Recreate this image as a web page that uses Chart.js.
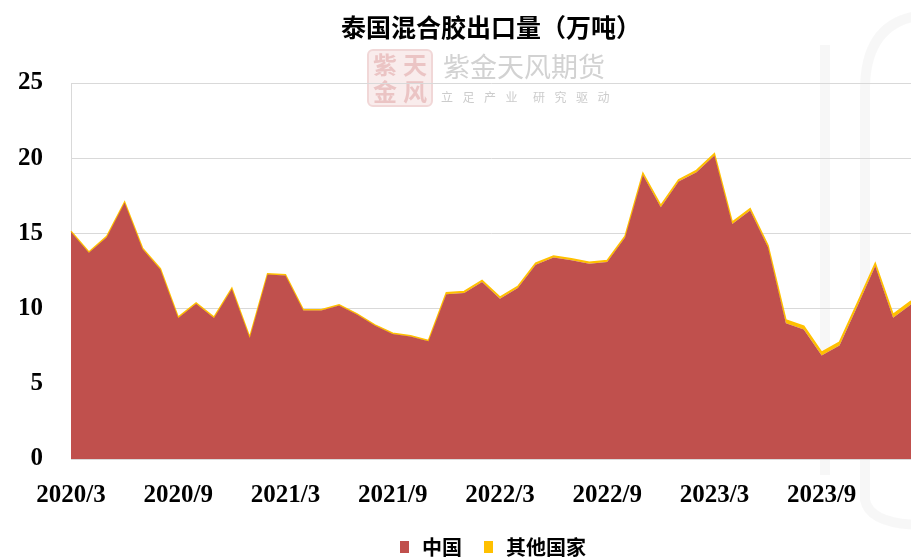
<!DOCTYPE html>
<html>
<head>
<meta charset="utf-8">
<script src="https://cdn.jsdelivr.net/npm/chart.js@4/dist/chart.umd.min.js"></script>
<style>
    html, body { margin: 0; padding: 0; background: #fff; }
    #wrap { width: 911px; height: 557px; position: relative; }
</style>
</head>
<body>
<div id="wrap"><canvas id="exportChart"></canvas></div>
<script>
// ── Data (万吨) ──
const months = [
    "2020/3", "2020/4", "2020/5", "2020/6", "2020/7", "2020/8", "2020/9", "2020/10", "2020/11", "2020/12",
    "2021/1", "2021/2", "2021/3", "2021/4", "2021/5", "2021/6", "2021/7", "2021/8", "2021/9", "2021/10",
    "2021/11", "2021/12", "2022/1", "2022/2", "2022/3", "2022/4", "2022/5", "2022/6", "2022/7", "2022/8",
    "2022/9", "2022/10", "2022/11", "2022/12", "2023/1", "2023/2", "2023/3", "2023/4", "2023/5", "2023/6",
    "2023/7", "2023/8", "2023/9", "2023/10", "2023/11", "2023/12", "2024/1", "2024/2"
];
const china = [
    15.10, 13.71, 14.75, 17.03, 13.97, 12.60, 9.38, 10.33, 9.38, 11.31,
    8.05, 12.26, 12.20, 9.87, 9.87, 10.20, 9.60, 8.87, 8.31, 8.15,
    7.83, 10.95, 11.04, 11.77, 10.66, 11.37, 12.92, 13.39, 13.21, 12.99,
    13.10, 14.72, 18.89, 16.74, 18.45, 19.07, 20.18, 15.63, 16.52, 14.08,
    9.03, 8.61, 6.88, 7.55, 10.16, 12.84, 9.39, 10.28
];
const others = [
    0.05, 0.05, 0.05, 0.05, 0.05, 0.05, 0.05, 0.05, 0.05, 0.05,
    0.05, 0.05, 0.05, 0.05, 0.05, 0.05, 0.05, 0.05, 0.05, 0.05,
    0.05, 0.10, 0.10, 0.10, 0.10, 0.10, 0.10, 0.10, 0.10, 0.10,
    0.10, 0.10, 0.12, 0.12, 0.12, 0.12, 0.12, 0.12, 0.12, 0.12,
    0.22, 0.22, 0.22, 0.22, 0.20, 0.18, 0.22, 0.22
];
const yTicks = [0, 5, 10, 15, 20, 25];
const labelEvery = 6; // x 轴每 6 个月一个标签

const COLORS = {
    china:  "#C0504D",
    others: "#FFC000",
    grid:   "#d9d9d9",
};

const CJK = "'Noto Sans CJK SC', 'Noto Sans', sans-serif";
const SERIF = "'Liberation Serif', 'DejaVu Serif', serif";

// ── Watermark (drawn behind the chart) ──
const watermark = {
    id: "watermark",
    beforeDraw(chart) {
        const ctx = chart.ctx;
        ctx.save();
        ctx.fillStyle = "#fff";
        ctx.fillRect(0, 0, chart.width, chart.height);

        // faint shape on the right
        ctx.strokeStyle = "rgba(0,0,0,0.03)";
        ctx.lineWidth = 10;
        ctx.beginPath();
        ctx.moveTo(825, 45);
        ctx.lineTo(825, 475);
        ctx.stroke();
        ctx.beginPath();
        ctx.moveTo(925, 15);
        ctx.quadraticCurveTo(865, 20, 865, 90);
        ctx.lineTo(865, 500);
        ctx.quadraticCurveTo(870, 525, 925, 525);
        ctx.stroke();

        // stamp
        ctx.fillStyle = "#f9ecec";
        ctx.strokeStyle = "#f1d7d7";
        ctx.lineWidth = 2;
        ctx.beginPath();
        ctx.roundRect(368, 50, 64, 56, 5);
        ctx.fill();
        ctx.stroke();
        ctx.fillStyle = "#ebc4c4";
        ctx.font = `bold 24px ${CJK}`;
        ctx.textAlign = "center";
        ctx.textBaseline = "middle";
        ctx.fillText("紫", 385, 65);
        ctx.fillText("天", 415, 65);
        ctx.fillText("金", 385, 92);
        ctx.fillText("风", 415, 92);

        // company name
        ctx.fillStyle = "#d2d2d2";
        ctx.font = `27px ${CJK}`;
        ctx.textAlign = "left";
        ctx.fillText("紫金天风期货", 443, 67);

        ctx.fillStyle = "#cccccc";
        ctx.font = `12px ${CJK}`;
        const slogan = "立足产业研究驱动";
        for (let i = 0; i < slogan.length; i++) {
            const gap = i >= 4 ? 6 : 0;
            ctx.fillText(slogan[i], 441 + i * 21.5 + gap, 97);
        }
        ctx.restore();
    },
};

// ── Legend drawn by hand (fixed spot under the axis) ──
const bottomLegend = {
    id: "bottomLegend",
    afterDraw(chart) {
        const ctx = chart.ctx;
        ctx.save();
        ctx.font = `bold 20px ${CJK}`;
        ctx.textBaseline = "middle";
        ctx.textAlign = "left";
        let x = 400;
        const y = 547;
        chart.data.datasets.forEach(ds => {
            ctx.fillStyle = ds.backgroundColor;
            ctx.fillRect(x, y - 6, 9, 12);
            x += 22;
            ctx.fillStyle = "#000";
            ctx.fillText(ds.label, x, y);
            x += ctx.measureText(ds.label).width + 22;
        });
        ctx.restore();
    },
};

// ── Chart ──
new Chart(document.getElementById("exportChart"), {
    type: "line",
    data: {
        labels: months,
        datasets: [
            {
                label: "中国",
                data: china,
                backgroundColor: COLORS.china,
                borderColor: COLORS.china,
                borderWidth: 0,
                pointRadius: 0,
                fill: "origin",
                tension: 0,
            },
            {
                label: "其他国家",
                data: others,
                backgroundColor: COLORS.others,
                borderColor: COLORS.others,
                borderWidth: 1.5,
                pointRadius: 0,
                fill: "-1",
                tension: 0,
            },
        ],
    },
    options: {
        responsive: true,
        maintainAspectRatio: false,
        animation: false,
        layout: { padding: { left: 19, right: 0, top: 0, bottom: 24 } },
        plugins: {
            title: {
                display: true,
                fullSize: false,
                text: "泰国混合胶出口量（万吨）",
                color: "#000",
                font: { family: CJK, size: 25, weight: "bold" },
                padding: { top: 12, bottom: 41 },
            },
            legend: { display: false },
            tooltip: { enabled: false },
        },
        scales: {
            x: {
                grid: { display: false, drawTicks: false },
                border: { display: true, color: COLORS.grid },
                afterFit: (axis) => { axis.paddingLeft = 0; axis.paddingRight = 0; },
                ticks: {
                    autoSkip: false,
                    maxRotation: 0,
                    minRotation: 0,
                    padding: 22,
                    color: "#000",
                    font: { family: SERIF, size: 25, weight: "bold" },
                    callback: (v, i) => (i % labelEvery === 0 ? months[i] : ""),
                },
            },
            y: {
                stacked: true,
                min: yTicks[0],
                max: yTicks[yTicks.length - 1],
                afterBuildTicks: (axis) => { axis.ticks = yTicks.map(v => ({ value: v })); },
                afterFit: (axis) => { axis.width = 52; },
                grid: { color: COLORS.grid, lineWidth: 1, drawTicks: false },
                border: { display: true, color: COLORS.grid },
                ticks: {
                    padding: 28,
                    color: "#000",
                    font: { family: SERIF, size: 25, weight: "bold" },
                },
            },
        },
    },
    plugins: [watermark, bottomLegend],
});
</script>
</body>
</html>
